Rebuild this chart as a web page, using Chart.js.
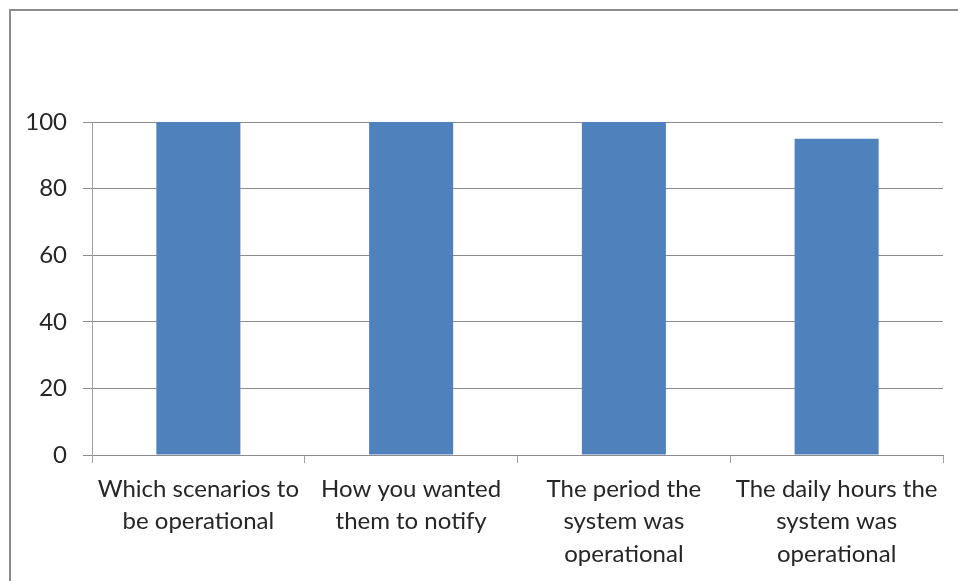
<!DOCTYPE html>
<html>
<head>
<meta charset="utf-8">
<script src="https://cdn.jsdelivr.net/npm/chart.js@4/dist/chart.umd.min.js"></script>
<style>
	html, body { margin: 0; padding: 0; background: #fff; overflow: hidden; }
	#frame { position: absolute; left: 9px; top: 9px; width: 1000px; height: 700px; border: 2px solid #8c8c8c; box-sizing: border-box; }
	#wrap { position: absolute; left: 0; top: 0; width: 958px; height: 581px; }
</style>
</head>
<body>
<div id="frame"></div>
<div id="wrap"><canvas id="myChart" width="958" height="581"></canvas></div>
<script>
const categories = [
	['Which scenarios to', 'be operational'],
	['How you wanted', 'them to notify'],
	['The period the', 'system was', 'operational'],
	['The daily hours the', 'system was', 'operational']
];
const values = [100, 100, 100, 95];
const yTicks = [0, 20, 40, 60, 80, 100];

const ctx = document.getElementById('myChart').getContext('2d');

const data = {
	labels: categories,
	datasets: [{
		label: 'Series 1',
		data: values,
		backgroundColor: '#4f81bd',
		borderWidth: 0,
		categoryPercentage: 1,
		barPercentage: 0.395
	}]
};

const config = {
	type: 'bar',
	data: data,
	options: {
		responsive: false,
		animation: false,
		layout: {
			padding: { left: 0, right: 15, top: 122, bottom: 0 }
		},
		plugins: {
			legend: { display: false },
			tooltip: { enabled: false }
		},
		scales: {
			x: {
				grid: {
					offset: true,
					drawOnChartArea: false,
					drawTicks: true,
					tickLength: 8,
					color: '#a0a0a0'
				},
				border: { color: '#8c8c8c', width: 1 },
				ticks: {
					color: '#262626',
					maxRotation: 0,
					autoSkip: false,
					padding: 10,
					font: { family: 'Lato', size: 24, lineHeight: 1.35 }
				},
				afterFit: function (scale) { scale.height = 126; }
			},
			y: {
				min: 0,
				max: 100,
				afterBuildTicks: function (scale) {
					scale.ticks = yTicks.map(v => ({ value: v }));
				},
				grid: {
					color: '#8c8c8c',
					tickLength: 9
				},
				border: { color: '#a0a0a0', width: 1 },
				ticks: {
					color: '#262626',
					padding: 16,
					font: { family: 'Lato', size: 24 }
				},
				afterFit: function (scale) { scale.width = 92; }
			}
		}
	}
};

const myChart = new Chart(ctx, config);
</script>
</body>
</html>
